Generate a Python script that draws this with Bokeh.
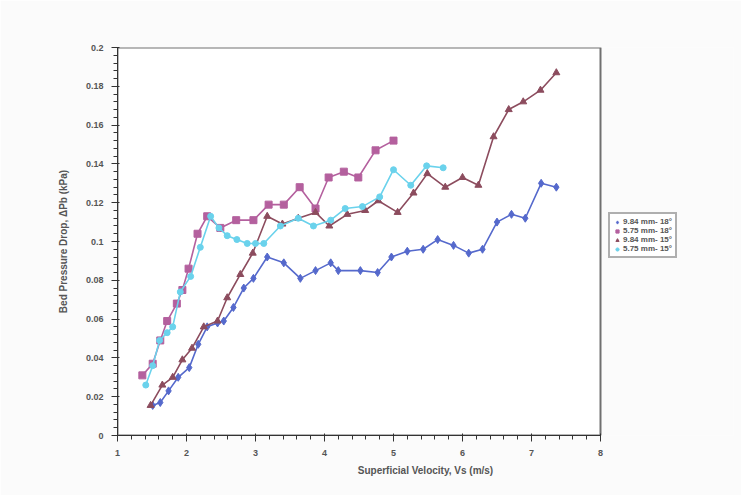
from bokeh.plotting import figure
from bokeh.models import Legend, LegendItem, SingleIntervalTicker, Range1d, NumeralTickFormatter
from bokeh.embed import file_html
from bokeh.resources import INLINE

# ---- data ----
x_984_18 = [1.51, 1.62, 1.74, 1.88, 2.04, 2.17, 2.30, 2.45, 2.54, 2.68, 2.83, 2.97, 3.17, 3.41, 3.65,
            3.87, 4.09, 4.20, 4.52, 4.77, 4.97, 5.20, 5.43, 5.64, 5.87, 6.09, 6.29, 6.50, 6.71, 6.91,
            7.14, 7.36]
y_984_18 = [0.0155, 0.017, 0.023, 0.030, 0.035, 0.047, 0.056, 0.058, 0.059, 0.066, 0.076, 0.081,
            0.092, 0.089, 0.081, 0.085, 0.089, 0.085, 0.085, 0.084, 0.092, 0.095, 0.096, 0.101,
            0.098, 0.094, 0.096, 0.110, 0.114, 0.112, 0.130, 0.128]

x_575_18 = [1.36, 1.51, 1.62, 1.72, 1.86, 1.94, 2.03, 2.16, 2.30, 2.49, 2.72, 2.97, 3.19, 3.41,
            3.64, 3.87, 4.06, 4.28, 4.49, 4.74, 5.00]
y_575_18 = [0.031, 0.037, 0.049, 0.059, 0.068, 0.075, 0.086, 0.104, 0.113, 0.107, 0.111, 0.111,
            0.119, 0.119, 0.128, 0.117, 0.133, 0.136, 0.133, 0.147, 0.152]

x_984_15 = [1.48, 1.65, 1.80, 1.94, 2.08, 2.25, 2.45, 2.59, 2.78, 2.96, 3.17, 3.39, 3.62, 3.87,
            4.07, 4.33, 4.59, 4.78, 5.06, 5.29, 5.49, 5.75, 6.00, 6.23, 6.45, 6.67, 6.88, 7.13, 7.36]
y_984_15 = [0.0155, 0.026, 0.030, 0.039, 0.045, 0.056, 0.059, 0.071, 0.083, 0.094, 0.113, 0.109,
            0.112, 0.115, 0.108, 0.114, 0.116, 0.121, 0.115, 0.125, 0.135, 0.128, 0.133, 0.129,
            0.154, 0.168, 0.172, 0.178, 0.187]

x_575_15 = [1.41, 1.51, 1.61, 1.72, 1.80, 1.91, 2.06, 2.20, 2.35, 2.47, 2.59, 2.73, 2.88, 3.00,
            3.12, 3.36, 3.62, 3.84, 4.09, 4.30, 4.55, 4.80, 5.00, 5.25, 5.48, 5.72]
y_575_15 = [0.026, 0.036, 0.049, 0.053, 0.056, 0.074, 0.082, 0.097, 0.113, 0.107, 0.103, 0.101,
            0.099, 0.099, 0.099, 0.108, 0.112, 0.108, 0.111, 0.117, 0.118, 0.123, 0.137, 0.129,
            0.139, 0.138]

series_names = ["9.84 mm- 18°", "5.75 mm- 18°", "9.84 mm- 15°", "5.75 mm- 15°"]

x_min, x_max, x_step = 1, 8, 1
y_min, y_max, y_step = 0, 0.2, 0.02

FONT = "Liberation Sans"
GREY = "#555555"
BG = "#fbfbfb"

# frame: 117..733 px, 69 px per x unit -> the extra room on the right holds the legend
x_view_end = x_min + 616 / 69.0

p = figure(width=741, height=495, output_backend="svg", toolbar_location=None,
           x_range=Range1d(x_min, x_view_end), y_range=Range1d(y_min, y_max),
           min_border_left=117, min_border_right=8, min_border_top=47, min_border_bottom=60)
p.background_fill_color = BG
p.border_fill_color = BG
p.outline_line_color = None
p.xgrid.visible = False
p.ygrid.visible = False

# white plot area with grey border (the chart's plot region)
p.quad(left=[x_min], right=[x_max], bottom=[y_min], top=[y_max],
       fill_color="#ffffff", line_color="#707070", line_width=2)

blue = "#5569cc"
pink = "#b4609e"
brown = "#8c4c5e"
cyan = "#6ad2ec"

r1l = p.line(x_984_18, y_984_18, line_color=blue, line_width=1.6)
r1m = p.scatter(x_984_18, y_984_18, marker="diamond", size=8, fill_color=blue, line_color=blue)
r2l = p.line(x_575_18, y_575_18, line_color=pink, line_width=1.6)
r2m = p.scatter(x_575_18, y_575_18, marker="square", size=7, fill_color=pink, line_color=pink)
r3l = p.line(x_984_15, y_984_15, line_color=brown, line_width=1.6)
r3m = p.scatter(x_984_15, y_984_15, marker="triangle", size=7, fill_color=brown, line_color=brown)
r4l = p.line(x_575_15, y_575_15, line_color=cyan, line_width=1.6)
r4m = p.scatter(x_575_15, y_575_15, marker="circle", size=6, fill_color=cyan, line_color=cyan)

# axes
p.xaxis.ticker = SingleIntervalTicker(interval=x_step, num_minor_ticks=5)
p.yaxis.ticker = SingleIntervalTicker(interval=y_step, num_minor_ticks=5)
p.xaxis.bounds = (x_min, x_max)
p.yaxis.formatter = NumeralTickFormatter(format="0.[00]")
for ax in (p.xaxis, p.yaxis):
    ax.axis_line_color = "#333333"
    ax.major_tick_line_color = "#333333"
    ax.minor_tick_line_color = "#333333"
    ax.major_label_text_font = FONT
    ax.major_label_text_font_size = "9px"
    ax.major_label_text_font_style = "bold"
    ax.major_label_text_color = GREY
    ax.axis_label_text_font = FONT
    ax.axis_label_text_font_size = "10px"
    ax.axis_label_text_font_style = "bold"
    ax.axis_label_text_color = GREY
p.xaxis.major_label_standoff = 8
p.yaxis.major_label_standoff = 8
p.xaxis.axis_label = "Superficial Velocity, Vs (m/s)"
p.yaxis.axis_label = "Bed Pressure Drop, ΔPb (kPa)"
p.xaxis.axis_label_standoff = 6
p.yaxis.axis_label_standoff = 14

legend = Legend(items=[
    LegendItem(label=series_names[0], renderers=[r1m]),
    LegendItem(label=series_names[1], renderers=[r2m]),
    LegendItem(label=series_names[2], renderers=[r3m]),
    LegendItem(label=series_names[3], renderers=[r4m]),
], location=(491, 177))
legend.label_text_font = FONT
legend.label_text_font_size = "8px"
legend.label_text_font_style = "bold"
legend.label_text_color = GREY
legend.label_height = 8
legend.label_standoff = 2
legend.glyph_width = 8
legend.glyph_height = 8
legend.spacing = 0
legend.padding = 3
legend.margin = 0
legend.border_line_color = "#606060"
legend.border_line_width = 2
legend.background_fill_color = "#ffffff"
p.add_layout(legend, "center")

open("out.html", "w").write(file_html(p, INLINE))
